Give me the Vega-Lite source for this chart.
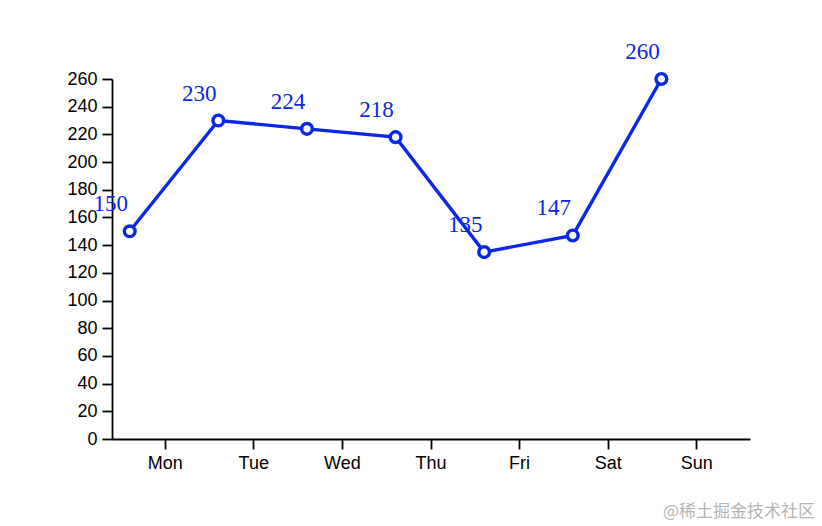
{
  "$schema": "https://vega.github.io/schema/vega-lite/v6.json",
  "autosize": "none",
  "width": 638,
  "height": 360,
  "padding": {"left": 112, "top": 79, "right": 72, "bottom": 87},
  "background": "white",
  "data": {
    "values": [
      {"day": "Mon", "value": 150},
      {"day": "Tue", "value": 230},
      {"day": "Wed", "value": 224},
      {"day": "Thu", "value": 218},
      {"day": "Fri", "value": 135},
      {"day": "Sat", "value": 147},
      {"day": "Sun", "value": 260}
    ]
  },
  "title": {
    "text": "@稀土掘金技术社区",
    "orient": "bottom",
    "anchor": "end",
    "font": "Noto Sans CJK SC",
    "fontSize": 17,
    "fontWeight": "normal",
    "color": "#b4b4b4",
    "offset": 32,
    "dx": 65
  },
  "config": {
    "view": {"stroke": null},
    "axis": {
      "grid": false,
      "domainColor": "black",
      "domainWidth": 1.8,
      "tickColor": "black",
      "tickWidth": 1.8,
      "tickSize": 10,
      "labelPadding": 5,
      "labelFont": "Liberation Sans",
      "labelFontSize": 18,
      "labelColor": "black",
      "title": null
    }
  },
  "encoding": {
    "x": {
      "field": "day",
      "type": "nominal",
      "sort": null,
      "bandPosition": 0,
      "scale": {"type": "band", "paddingInner": 0.2, "paddingOuter": 0.2},
      "axis": {"labelAngle": 0, "bandPosition": 0.5}
    },
    "y": {
      "field": "value",
      "type": "quantitative",
      "scale": {"domain": [0, 260], "nice": false},
      "axis": {"values": [0, 20, 40, 60, 80, 100, 120, 140, 160, 180, 200, 220, 240, 260]}
    }
  },
  "layer": [
    {
      "mark": {"type": "line", "color": "#0a28e6", "strokeWidth": 3.4}
    },
    {
      "mark": {"type": "point", "shape": "circle", "filled": true, "fill": "white", "stroke": "#0a28e6", "strokeWidth": 3.4, "size": 115, "opacity": 1}
    },
    {
      "mark": {"type": "text", "font": "Liberation Serif", "fontSize": 23, "color": "#0a28e6", "align": "center", "baseline": "alphabetic", "dx": -19, "dy": -20},
      "encoding": {"text": {"field": "value", "type": "quantitative"}}
    }
  ]
}
